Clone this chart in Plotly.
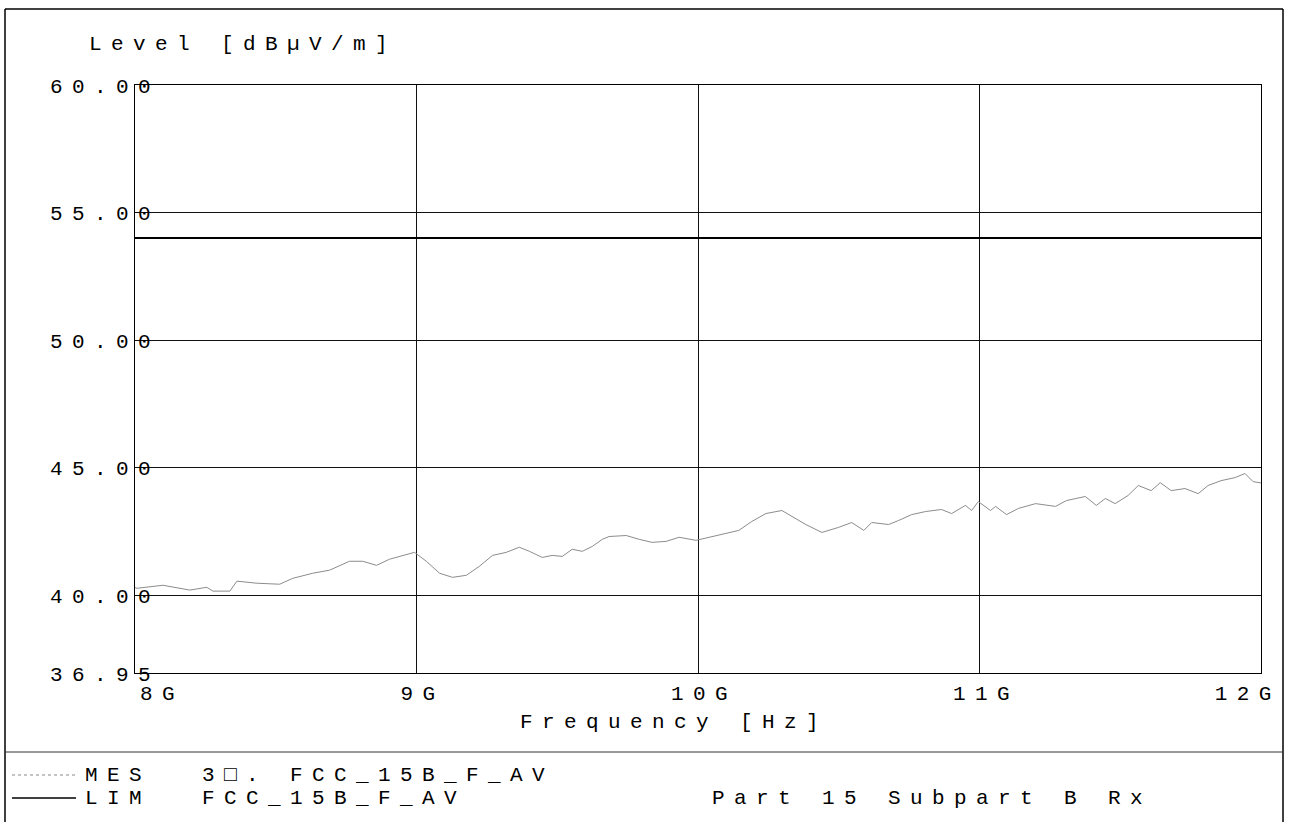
import plotly.graph_objects as go

# ---------------- data ----------------
freq_ghz = [8.000, 8.007, 8.099, 8.195, 8.255, 8.277, 8.337, 8.362, 8.433, 8.514, 8.560,
            8.631, 8.691, 8.762, 8.809, 8.858, 8.904, 8.965, 8.993, 9.035, 9.082,
            9.128, 9.177, 9.223, 9.270, 9.319, 9.365, 9.401, 9.447, 9.482, 9.518,
            9.553, 9.589, 9.624, 9.660, 9.684, 9.745, 9.791, 9.837, 9.887, 9.933,
            9.993, 10.039, 10.074, 10.145, 10.191, 10.241, 10.298, 10.333, 10.383,
            10.440, 10.500, 10.546, 10.589, 10.617, 10.677, 10.713, 10.759, 10.809,
            10.865, 10.901, 10.950, 10.972, 10.996, 11.039, 11.057, 11.096, 11.138,
            11.199, 11.270, 11.309, 11.376, 11.415, 11.447, 11.482, 11.528, 11.564,
            11.610, 11.642, 11.681, 11.730, 11.777, 11.812, 11.858, 11.908, 11.943,
            11.972, 12.000]
level_dbuv = [40.30, 40.27, 40.39, 40.20, 40.31, 40.16, 40.16, 40.55, 40.47, 40.43, 40.66,
              40.86, 40.98, 41.33, 41.33, 41.17, 41.41, 41.60, 41.68, 41.33, 40.86,
              40.70, 40.78, 41.13, 41.56, 41.68, 41.88, 41.72, 41.48, 41.56, 41.52,
              41.80, 41.72, 41.91, 42.19, 42.30, 42.34, 42.19, 42.07, 42.11, 42.27,
              42.15, 42.27, 42.34, 42.54, 42.89, 43.20, 43.32, 43.09, 42.77,
              42.46, 42.66, 42.85, 42.54, 42.85, 42.77, 42.93, 43.16, 43.28,
              43.36, 43.20, 43.52, 43.32, 43.67, 43.32, 43.48, 43.16, 43.40,
              43.59, 43.48, 43.71, 43.87, 43.52, 43.79, 43.59, 43.91, 44.30,
              44.10, 44.41, 44.10, 44.18, 43.98, 44.30, 44.49, 44.61, 44.77,
              44.45, 44.40]
limit_freq_ghz = [8.0, 12.0]
limit_dbuv = [54.0, 54.0]

y_tick_vals = [60, 55, 50, 45, 40, 36.95]
y_tick_text = ["60.00", "55.00", "50.00", "45.00", "40.00", "36.95"]
x_tick_vals = [8, 9, 10, 11, 12]
x_tick_text = ["8G", "9G", "10G", "11G", "12G"]

y_title = "Level [dB\u00b5V/m]"
x_title = "Frequency [Hz]"
legend_rows = [("MES", "3\u25a1. FCC_15B_F_AV", ""),
               ("LIM", "FCC_15B_F_AV", "Part 15 Subpart B Rx")]

# ---------------- layout helpers ----------------
W, H = 1289, 822
L, R, T, B = 135, 1261, 85, 673


def px(x):
    return (x - L) / (R - L)


def py(y):
    return (B - y) / (B - T)


FONT = "Liberation Mono, Courier New, monospace"
FS = 21
txt = dict(family=FONT, size=FS, color="black")

fig = go.Figure()
fig.add_trace(go.Scatter(x=freq_ghz, y=level_dbuv, mode="lines",
                         line=dict(color="#8c8c8c", width=1), showlegend=False,
                         hoverinfo="skip"))
fig.add_trace(go.Scatter(x=limit_freq_ghz, y=limit_dbuv, mode="lines",
                         line=dict(color="black", width=2), showlegend=False,
                         hoverinfo="skip"))

ann = []
# y tick labels
for v, t in zip(y_tick_vals, y_tick_text):
    ann.append(dict(x=px(48), xref="paper", y=v, yref="y", text=t, showarrow=False,
                    xanchor="left", align="left", yanchor="middle", yshift=-2, font=txt))
# x tick labels
for i, (v, t) in enumerate(zip(x_tick_vals, x_tick_text)):
    if i == 0:
        a = dict(xanchor="left", align="left", xshift=3)
    elif i == len(x_tick_vals) - 1:
        a = dict(xanchor="right", align="right", xshift=22)
    else:
        a = dict(xanchor="center", xshift=6)
    ann.append(dict(x=v, xref="x", y=py(694), yref="paper", text=t, showarrow=False,
                    yanchor="middle", font=txt, **a))
# titles
ann.append(dict(x=px(87), xref="paper", y=py(44), yref="paper", text=y_title,
                showarrow=False, xanchor="left", align="left", yanchor="middle", font=txt))
ann.append(dict(x=px(518), xref="paper", y=py(722), yref="paper", text=x_title,
                showarrow=False, xanchor="left", align="left", yanchor="middle", font=txt))
# legend block
for (name, desc, extra), yy in zip(legend_rows, [775, 798]):
    ann.append(dict(x=px(83), xref="paper", y=py(yy), yref="paper", text=name,
                    showarrow=False, xanchor="left", align="left", yanchor="middle", font=txt))
    ann.append(dict(x=px(200), xref="paper", y=py(yy), yref="paper", text=desc,
                    showarrow=False, xanchor="left", align="left", yanchor="middle", font=txt))
    if extra:
        ann.append(dict(x=px(710), xref="paper", y=py(yy), yref="paper", text=extra,
                        showarrow=False, xanchor="left", align="left", yanchor="middle", font=txt))

shapes = []
blk = dict(color="black", width=1.5)
# outer frame
shapes.append(dict(type="line", xref="paper", yref="paper", x0=px(5), x1=px(1283), y0=py(9), y1=py(9), line=blk))
shapes.append(dict(type="line", xref="paper", yref="paper", x0=px(5), x1=px(5), y0=py(9), y1=py(822), line=blk))
shapes.append(dict(type="line", xref="paper", yref="paper", x0=px(1283), x1=px(1283), y0=py(9), y1=py(822), line=blk))
# legend separator
shapes.append(dict(type="line", xref="paper", yref="paper", x0=px(5), x1=px(1283), y0=py(752), y1=py(752), line=dict(color="#333", width=1)))
# legend samples
shapes.append(dict(type="line", xref="paper", yref="paper", x0=px(12), x1=px(76), y0=py(775), y1=py(775), line=dict(color="#888", width=1, dash="dot")))
shapes.append(dict(type="line", xref="paper", yref="paper", x0=px(12), x1=px(76), y0=py(798), y1=py(798), line=dict(color="black", width=1.5)))

fig.update_layout(
    width=W, height=H, autosize=False,
    margin=dict(l=L, r=W - R, t=T, b=H - B, pad=0),
    paper_bgcolor="white", plot_bgcolor="white",
    annotations=ann, shapes=shapes, showlegend=False,
    font=txt,
)
fig.update_xaxes(range=[8, 12], tickvals=x_tick_vals[1:-1], showticklabels=False, ticks="",
                 showgrid=True, gridcolor="#111", gridwidth=1, zeroline=False,
                 showline=True, linecolor="black", linewidth=1, mirror=True)
fig.update_yaxes(range=[36.95, 60], tickvals=y_tick_vals[1:-1], showticklabels=False, ticks="",
                 showgrid=True, gridcolor="#111", gridwidth=1, zeroline=False,
                 showline=True, linecolor="black", linewidth=1, mirror=True)

post = """
document.body.style.margin = '0';
document.body.style.overflow = 'hidden';
var gd = document.getElementById('{plot_id}');
gd.querySelectorAll('text.annotation-text').forEach(function(t){ t.style.letterSpacing = '9.4px'; });
"""
fig.write_html("out.html", post_script=post, config={"staticPlot": True})
